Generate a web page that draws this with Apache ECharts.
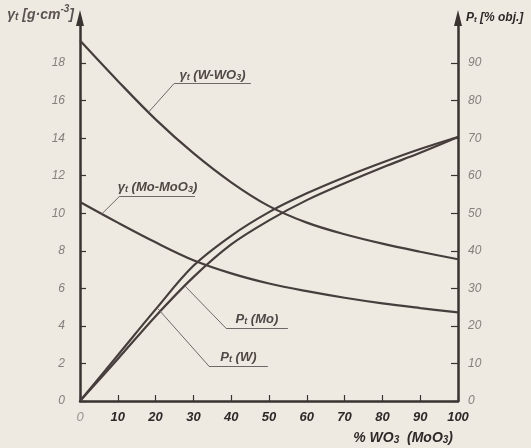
<!DOCTYPE html>
<html><head><meta charset="utf-8">
<script src="https://cdn.jsdelivr.net/npm/echarts@6/dist/echarts.min.js"></script>
<style>html,body{margin:0;padding:0;background:#efeae1}#c{width:531px;height:448px}</style>
</head><body><div id="c"></div>
<script>
// ---- data ----
const xValues    = [0, 10, 20, 30, 40, 50, 60, 70, 80, 90, 100];          // % WO3 (MoO3)
const gammaW     = [19.2, 17.05, 15.0, 13.2, 11.65, 10.38, 9.5, 8.88, 8.38, 7.95, 7.55];  // g/cm3
const gammaMo    = [10.6, 9.5, 8.45, 7.5, 6.8, 6.26, 5.85, 5.5, 5.2, 4.95, 4.72];        // g/cm3
const porosityW  = [0, 12.2, 24.4, 36.0, 44.0, 50.3, 55.3, 59.6, 63.5, 67.1, 70.3];      // % obj.
const porosityMo = [0, 11.2, 22.6, 33.0, 41.7, 48.1, 53.5, 58.0, 62.2, 66.1, 70.3];      // % obj.
const leftTicks  = [0, 2, 4, 6, 8, 10, 12, 14, 16, 18];
const rightTicks = [0, 10, 20, 30, 40, 50, 60, 70, 80, 90];
const xTicks     = [0, 10, 20, 30, 40, 50, 60, 70, 80, 90, 100];

const FONT = '"Liberation Sans", Arial, sans-serif';
const LINE = '#463e3d';
const AXIS = '#3a3332';
const LEAD = '#6f6866';
const pairs = (xs, ys) => xs.map((x, i) => [x, ys[i]]);

const richStyles = (color, size) => ({
  t: {fontSize: size, fontStyle: 'italic', fontWeight: 'bold', fontFamily: FONT, color: color, lineHeight: size + 4, verticalAlign: 'bottom'},
  s: {fontSize: size - 4, fontStyle: 'italic', fontWeight: 'bold', fontFamily: FONT, color: color, lineHeight: size - 2, verticalAlign: 'bottom'},
  u: {fontSize: size - 4, fontStyle: 'italic', fontWeight: 'bold', fontFamily: FONT, color: color, lineHeight: size + 4, verticalAlign: 'top'}
});

function leader(p0, p1, p2, text) {
  return [
    [{coord: p0, label: {show: false}}, {coord: p1}],
    [{coord: p1, label: {show: true, position: 'insideMiddleTop', distance: 2, formatter: text, rich: richStyles('#4f4847', 13)}}, {coord: p2}]
  ];
}
function markLines(items) {
  return {
    silent: true, symbol: ['none', 'none'], animation: false,
    lineStyle: {color: LEAD, width: 1, type: 'solid'},
    emphasis: {disabled: true},
    data: [].concat(...items)
  };
}

const chart = echarts.init(document.getElementById('c'), null, {renderer: 'canvas'});
const curve = (name, data, yIdx, ml) => ({
  name, type: 'line', yAxisIndex: yIdx, data, smooth: 0.35, symbol: 'none',
  lineStyle: {color: LINE, width: 2.2}, emphasis: {disabled: true}, animation: false,
  markLine: ml
});

chart.setOption({
  backgroundColor: '#efeae1',
  animation: false,
  grid: {left: 80, right: 73, top: 18, bottom: 47, containLabel: false, outerBoundsMode: 'none'},
  xAxis: {
    type: 'value', min: 0, max: 100, interval: 10,
    name: '{t|% WO}{s|3}{t|  (MoO}{s|3}{t|)}',
    nameLocation: 'end', nameGap: 0,
    nameTextStyle: {align: 'right', verticalAlign: 'top', padding: [26, 5, 0, 0], rich: richStyles('#2e2828', 14)},
    axisLine: {show: true, onZero: false, lineStyle: {color: AXIS, width: 2.5}},
    axisTick: {show: true, inside: true, length: 6, customValues: xTicks, lineStyle: {color: AXIS, width: 1.2}},
    axisLabel: {margin: 10, customValues: xTicks, formatter: v => v === 0 ? '{g|0}' : '{d|' + v + '}', rich: {
      g: {fontSize: 13, fontStyle: 'italic', fontFamily: FONT, color: '#9a9490'},
      d: {fontSize: 13, fontStyle: 'italic', fontWeight: 'bold', fontFamily: FONT, color: '#2e2828'}
    }},
    splitLine: {show: false}
  },
  yAxis: [
    {
      type: 'value', position: 'left', min: 0, max: 20.4, interval: 2,
      name: '{t|γ}{s|t}{t| [g·cm}{u|-3}{t|]}',
      nameLocation: 'end', nameGap: 5,
      nameTextStyle: {align: 'right', verticalAlign: 'middle', padding: [0, 6, 0, 0], rich: richStyles('#5a5352', 14)},
      axisLine: {show: true, onZero: false, symbol: ['none', 'triangle'], symbolSize: [8, 16], lineStyle: {color: AXIS, width: 2.5}},
      axisTick: {show: true, inside: true, length: 6, customValues: leftTicks, lineStyle: {color: AXIS, width: 1.2}},
      axisLabel: {margin: 15, fontSize: 12, fontStyle: 'italic', fontFamily: FONT, color: '#85807c', customValues: leftTicks},
      splitLine: {show: false}
    },
    {
      type: 'value', position: 'right', min: 0, max: 102, interval: 10,
      name: '{t|P}{s|t}{t| [% obj.]}',
      nameLocation: 'end', nameGap: 2,
      nameTextStyle: {align: 'left', verticalAlign: 'middle', padding: [0, 0, 0, 8], rich: richStyles('#2e2828', 12)},
      axisLine: {show: true, onZero: false, symbol: ['none', 'triangle'], symbolSize: [8, 16], lineStyle: {color: AXIS, width: 2.5}},
      axisTick: {show: true, inside: true, length: 7, customValues: rightTicks, lineStyle: {color: AXIS, width: 1.2}},
      axisLabel: {margin: 10, fontSize: 12, fontStyle: 'italic', fontFamily: FONT, color: '#85807c', customValues: rightTicks},
      splitLine: {show: false}
    }
  ],
  series: [
    curve('γt (W-WO3)', pairs(xValues, gammaW), 0, markLines([
      leader([18.07, 15.37], [24.9, 16.91], [45.2, 16.91], '{t|γ}{s|t}{t| (W-WO}{s|3}{t|)}'),
      leader([5.69, 9.95], [10.6, 10.93], [30.4, 10.93], '{t|γ}{s|t}{t| (Mo-MoO}{s|3}{t|)}')
    ])),
    curve('γt (Mo-MoO3)', pairs(xValues, gammaMo), 0, null),
    curve('Pt (W)', pairs(xValues, porosityW), 1, markLines([
      leader([20.6, 24.6], [34.1, 9.3], [49.7, 9.3], '{t|P}{s|t}{t| (W)}'),
      leader([27.8, 30.6], [38.6, 19.4], [55.0, 19.4], '{t|P}{s|t}{t| (Mo)}')
    ])),
    curve('Pt (Mo)', pairs(xValues, porosityMo), 1, null)
  ]
});
</script></body></html>
